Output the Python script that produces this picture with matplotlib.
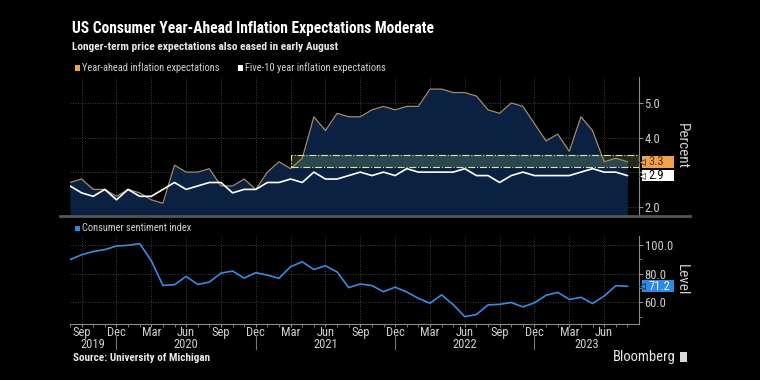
import matplotlib
matplotlib.use("Agg")
import matplotlib.pyplot as plt
from matplotlib.patches import Rectangle
import matplotlib.transforms as mtransforms
import numpy as np

plt.rcParams['font.family'] = ['Roboto Condensed', 'DejaVu Sans']

# monthly, Aug 2019 .. Aug 2023
months = (['Aug', 'Sep', 'Oct', 'Nov', 'Dec', 'Jan', 'Feb', 'Mar', 'Apr', 'May', 'Jun', 'Jul'] * 5)[:49]

# year-ahead inflation expectations (%)
year_ahead = [2.7, 2.8, 2.5, 2.5, 2.3, 2.5, 2.4, 2.2, 2.1, 3.2, 3.0, 3.0,
              3.1, 2.6, 2.6, 2.8, 2.5, 3.0, 3.3, 3.1, 3.4, 4.6, 4.2, 4.7,
              4.6, 4.6, 4.8, 4.9, 4.8, 4.9, 4.9, 5.4, 5.4, 5.3, 5.3, 5.2,
              4.8, 4.7, 5.0, 4.9, 4.4, 3.9, 4.1, 3.6, 4.6, 4.2, 3.3, 3.4, 3.3]

# five-10 year inflation expectations (%)
five_ten = [2.6, 2.4, 2.3, 2.5, 2.2, 2.5, 2.3, 2.3, 2.5, 2.7, 2.5, 2.6,
            2.7, 2.7, 2.4, 2.5, 2.5, 2.7, 2.7, 2.8, 2.7, 3.0, 2.8, 2.8,
            2.9, 3.0, 2.9, 3.0, 2.9, 3.1, 3.0, 3.0, 3.0, 3.0, 3.1, 2.9,
            2.9, 2.7, 2.9, 3.0, 2.9, 2.9, 2.9, 2.9, 3.0, 3.1, 3.0, 3.0, 2.9]

# consumer sentiment index
sentiment = [89.8, 93.2, 95.5, 96.8, 99.3, 99.8, 101.0, 89.1, 71.8, 72.3, 78.1, 72.5,
             74.1, 80.4, 81.8, 76.9, 80.7, 79.0, 76.8, 84.9, 88.3, 82.9, 85.5, 81.2,
             70.3, 72.8, 71.7, 67.4, 70.6, 67.2, 62.8, 59.4, 65.2, 58.4, 50.0, 51.5,
             58.2, 58.6, 59.9, 56.8, 59.7, 64.9, 67.0, 62.0, 63.5, 59.2, 64.4, 71.6, 71.2]

# highlighted band from Mar 2021 onwards
band_start = 19
band_low, band_high = 3.15, 3.5

# year labels: (label, start index, end index)
years = [('2019', 0, 4), ('2020', 4, 16), ('2021', 16, 28), ('2022', 28, 40), ('2023', 40, 49)]

x = np.arange(len(year_ahead))
BG = 'black'
GRID = '#555555'
TXT = '#d0d0d0'
SPINE = '#8a8a8a'

fig = plt.figure(figsize=(7.6, 3.8), dpi=100, facecolor=BG)
ax1 = fig.add_axes([70 / 760, 1 - 215 / 380, 569 / 760, 138 / 380], facecolor=BG)
ax2 = fig.add_axes([70 / 760, 1 - 323.7 / 380, 569 / 760, 88 / 380], facecolor=BG)

tick_pos = [i for i in range(len(months)) if months[i] in ('Sep', 'Dec', 'Mar', 'Jun')]

for ax in (ax1, ax2):
    ax.set_xlim(0, 49)
    for s in ('left', 'top', 'bottom'):
        ax.spines[s].set_visible(False)
    ax.spines['right'].set_color(SPINE)
    ax.yaxis.tick_right()
    ax.tick_params(axis='y', colors=SPINE, labelcolor=TXT, labelsize=9, length=3, width=0.8, pad=1)
    ax.set_xticks(tick_pos)
    ax.grid(True, color=GRID, linestyle=(0, (1, 2)), linewidth=0.6)
    ax.set_axisbelow(True)


def value_box(ax, y, text, fc, tc, h):
    tr = mtransforms.blended_transform_factory(ax.transAxes, ax.transData)
    ax.add_patch(Rectangle((1.006, y - h / 2), 0.055, h, transform=tr, fc=fc, ec='none',
                           clip_on=False, zorder=6))
    ax.plot([1.005], [y], marker='<', ms=4, color=fc, mec='black', mew=0.4,
            transform=tr, clip_on=False, zorder=7)
    ax.text(1.016, y, text, transform=tr, color=tc, fontsize=9, va='center', ha='left',
            clip_on=False, zorder=8)


# ---- top chart
ax1.set_ylim(1.76, 5.75)
ax1.set_yticks([2, 3, 4, 5])
ax1.set_yticklabels(['2.0', '', '4.0', '5.0'])
ax1.tick_params(axis='x', length=0, labelbottom=False)
ax1.fill_between(x, 1.76, year_ahead, color='#0a2142', lw=0, zorder=1)
ax1.plot(x, year_ahead, color='#a58c66', lw=0.9, zorder=3)
ax1.plot(x, five_ten, color='white', lw=1.2, zorder=3)
ax1.add_patch(Rectangle((band_start, band_low), 49 - band_start, band_high - band_low,
                        facecolor=(0.72, 0.86, 0.55, 0.2), edgecolor='none', zorder=2))
ax1.add_patch(Rectangle((band_start, band_low), 49 - band_start, band_high - band_low,
                        facecolor='none', edgecolor='#d6e8a0', lw=0.8, ls='-.', zorder=4))
value_box(ax1, year_ahead[-1], f'{year_ahead[-1]:.1f}', '#f2a24e', '#5a3510', 0.34)
value_box(ax1, five_ten[-1], f'{five_ten[-1]:.1f}', 'white', 'black', 0.34)

# ---- bottom chart
ax2.set_ylim(45.1, 106.5)
ax2.set_yticks([60, 80, 100])
ax2.set_yticklabels(['60.0', '80.0', '100.0'])
ax2.set_yticks([50, 70, 90], minor=True)
ax2.tick_params(axis='y', which='minor', colors=SPINE, length=2)
ax2.plot(x, sentiment, color='#3a8be0', lw=1.2, zorder=3)
value_box(ax2, sentiment[-1], f'{sentiment[-1]:.1f}', '#2a8ae6', '#eaf4ff', 8.4)
ax2.spines['bottom'].set_visible(True)
ax2.spines['bottom'].set_color(SPINE)
ax2.set_xticks(x, minor=True)
ax2.set_xticklabels([months[i] for i in tick_pos])
ax2.tick_params(axis='x', which='major', colors=SPINE, labelcolor=TXT, labelsize=9, length=2, pad=0)
ax2.tick_params(axis='x', which='minor', colors=SPINE, length=2)
xt = ax2.get_xaxis_transform()
for lab, a, b in years:
    ax2.text((a + b) / 2, -0.235, lab, transform=xt, color=TXT, fontsize=9, ha='center', va='center')
    if a > 0:
        ax2.plot([a, a], [-0.13, -0.29], transform=xt, color='#777777', lw=0.8, clip_on=False)

# axis titles
fig.text(681.7 / 760, 1 - 146 / 380, 'Percent', color=TXT, fontsize=11, rotation=270, ha='center', va='center')
fig.text(681.7 / 760, 1 - 280 / 380, 'Level', color=TXT, fontsize=11, rotation=270, ha='center', va='center')

# gray separator under the top chart
fig.add_artist(plt.Line2D([60 / 760, 690 / 760], [1 - 215.5 / 380] * 2, color='#555555', lw=2))

# legends
fig.patches.append(Rectangle((75 / 760, 1 - 70.5 / 380), 5 / 760, 5 / 380, transform=fig.transFigure,
                             fc='#f2a24e', ec='none'))
fig.text(82.5 / 760, 1 - 68 / 380, 'Year-ahead inflation expectations', color=TXT, fontsize=7.5, va='center')
fig.patches.append(Rectangle((237.5 / 760, 1 - 70.5 / 380), 5 / 760, 5 / 380, transform=fig.transFigure,
                             fc='white', ec='none'))
fig.text(245 / 760, 1 - 68 / 380, 'Five-10 year inflation expectations', color=TXT, fontsize=7.5, va='center')
fig.patches.append(Rectangle((75 / 760, 1 - 230.5 / 380), 5 / 760, 5 / 380, transform=fig.transFigure,
                             fc='#2a8ae6', ec='none'))
fig.text(82.5 / 760, 1 - 228 / 380, 'Consumer sentiment index', color=TXT, fontsize=7.5, va='center')

# titles / footer
fig.text(72 / 760, 1 - 29 / 380, 'US Consumer Year-Ahead Inflation Expectations Moderate',
         color='white', fontsize=11.2, fontweight='bold', va='center')
fig.text(72 / 760, 1 - 47 / 380, 'Longer-term price expectations also eased in early August',
         color='#e8e8e8', fontsize=8.2, fontweight='bold', va='center')
fig.text(73 / 760, 1 - 358 / 380, 'Source: University of Michigan', color='#e8e8e8',
         fontsize=8, fontweight='bold', va='center')
fig.text(676 / 760, 1 - 357 / 380, 'Bloomberg', color='#e8e8e8', fontsize=10.5,
         va='center', ha='right')
fig.patches.append(Rectangle((680 / 760, 1 - 362 / 380), 7 / 760, 10 / 380, transform=fig.transFigure,
                             fc='#d8d8d8', ec='none'))

fig.savefig('out.png', dpi=100, facecolor=BG)
